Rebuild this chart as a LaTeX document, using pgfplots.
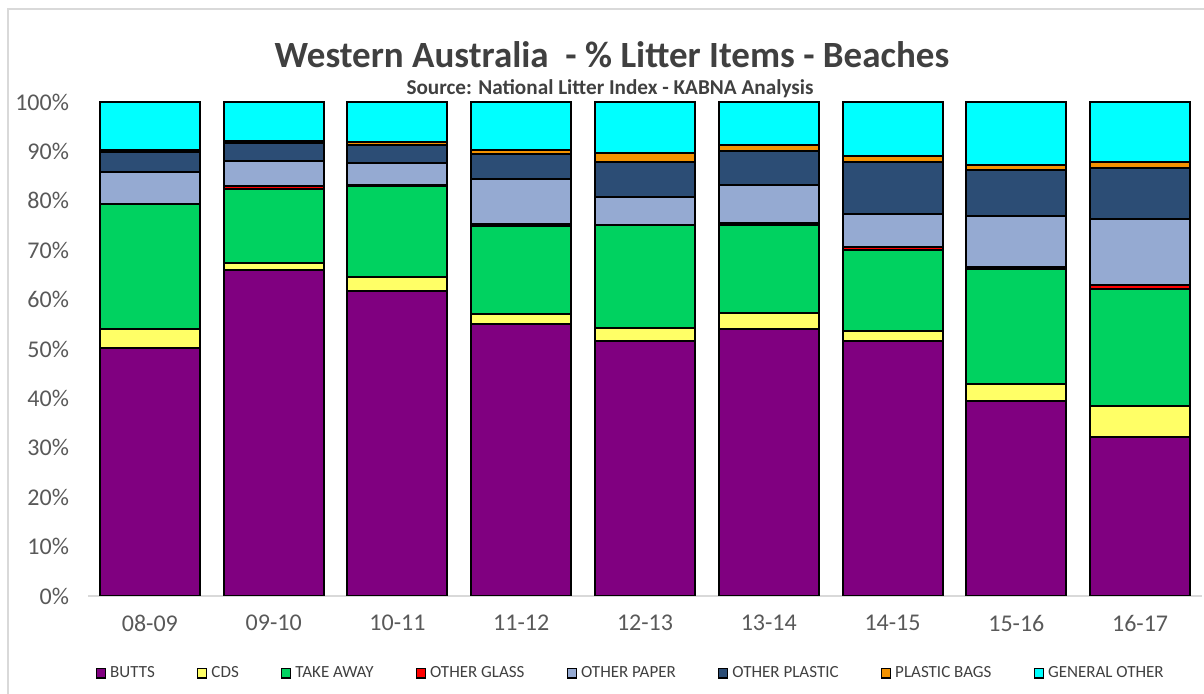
\documentclass[border=0pt]{standalone}
\usepackage{pgfplots}
\pgfplotsset{compat=1.18}
\usepackage{pgfplotstable}
\usepackage{fontspec}
\setmainfont{Carlito}
\definecolor{cButts}{RGB}{128,0,128}
\definecolor{cCds}{RGB}{255,255,102}
\definecolor{cTake}{RGB}{0,210,96}
\definecolor{cGlass}{RGB}{255,0,0}
\definecolor{cPaper}{RGB}{149,170,210}
\definecolor{cPlastic}{RGB}{44,77,117}
\definecolor{cBags}{RGB}{243,146,0}
\definecolor{cGeneral}{RGB}{0,255,255}
\definecolor{tickgray}{RGB}{89,89,89}
\definecolor{titlegray}{RGB}{64,64,64}
\definecolor{bordergray}{RGB}{217,217,217}

\pgfplotstableread{
x butts cds take glass paper plastic bags general
0 50.3 3.7 25.3 0.1 6.4 4.1 0.3 9.8
1 66.0 1.5 14.9 0.5 5.1 3.7 0.5 7.8
2 61.8 2.8 18.4 0.1 4.5 3.7 0.7 8.0
3 55.0 2.0 17.9 0.5 9.0 5.1 0.7 9.8
4 51.6 2.6 20.8 0.2 5.6 7.1 1.7 10.4
5 54.0 3.2 18.0 0.3 7.6 7.0 1.2 8.7
6 51.6 2.0 16.4 0.6 6.7 10.5 1.3 10.9
7 39.5 3.4 23.3 0.3 10.5 9.2 1.0 12.8
8 32.2 6.3 23.6 0.9 13.3 10.3 1.3 12.1
}\datatable

\begin{document}
\begin{tikzpicture}
\path[use as bounding box] (0,0) rectangle (602pt,347pt);
\draw[bordergray, line width=0.6pt] (4pt,0) -- (4pt,342.5pt) -- (602pt,342.5pt);
\node[font=\fontsize{18.5}{22}\selectfont\bfseries, text=titlegray] at (306pt,319.5pt) {Western Australia\ \ - \% Litter Items - Beaches};
\node[font=\fontsize{10.6}{12}\selectfont\bfseries, text=titlegray] at (305pt,302.5pt) {Source: National Litter Index - KABNA Analysis};
\begin{axis}[
  at={(44pt,49pt)}, anchor=south west,
  scale only axis,
  width=557pt, height=247pt,
  ybar stacked,
  bar width=50pt,
  xmin=-0.5, xmax=8.5,
  ymin=0, ymax=100,
  xtick={0,...,8},
  xticklabels={08-09,09-10,10-11,11-12,12-13,13-14,14-15,15-16,16-17},
  ytick={0,10,...,100},
  yticklabel={\pgfmathprintnumber{\tick}\%},
  /pgf/number format/assume math mode=true,
  tick label style={font=\fontsize{12}{14}\selectfont, text=tickgray},
  xticklabel style={yshift=-6pt},
  yticklabel style={xshift=-6pt},
  major tick length=0pt,
  axis x line*=bottom,
  axis y line*=left,
  x axis line style={-, draw=bordergray, line width=0.8pt},
  y axis line style={draw=none},
  every axis plot/.append style={draw=black, line width=1pt},
  legend columns=8,
  legend style={at={(0.488,-0.156)}, anchor=center, draw=none, fill=none,
    font=\fontsize{8.5}{10}\selectfont, text=titlegray,
    /tikz/every even column/.append style={column sep=19pt}},
  legend image code/.code={\draw[#1, draw=black, line width=0.7pt] (0pt,-2.4pt) rectangle (4.6pt,2.4pt);},
]
\addplot[fill=cButts] table[x=x, y=butts] {\datatable};
\addplot[fill=cCds] table[x=x, y=cds] {\datatable};
\addplot[fill=cTake] table[x=x, y=take] {\datatable};
\addplot[fill=cGlass] table[x=x, y=glass] {\datatable};
\addplot[fill=cPaper] table[x=x, y=paper] {\datatable};
\addplot[fill=cPlastic] table[x=x, y=plastic] {\datatable};
\addplot[fill=cBags] table[x=x, y=bags] {\datatable};
\addplot[fill=cGeneral] table[x=x, y=general] {\datatable};
\legend{BUTTS,CDS,TAKE AWAY,OTHER GLASS,OTHER PAPER,OTHER PLASTIC,PLASTIC BAGS,GENERAL OTHER}
\end{axis}
\end{tikzpicture}
\end{document}
